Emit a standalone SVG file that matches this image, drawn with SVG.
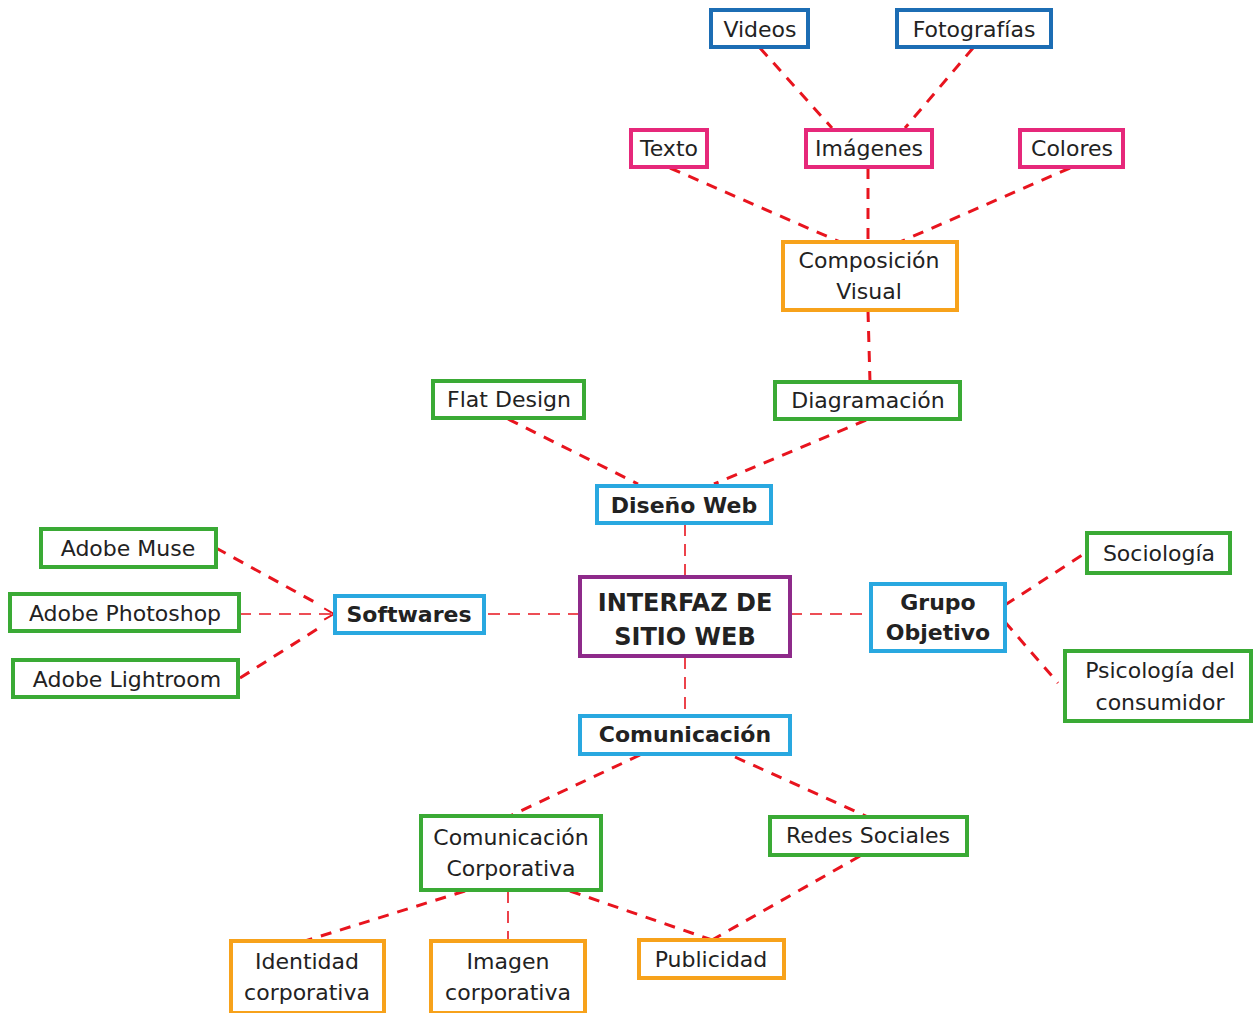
<svg xmlns="http://www.w3.org/2000/svg" width="1253" height="1013" viewBox="0 0 1253 1013">
<style>
rect{fill:#fff;stroke-width:4}
.g{stroke:#3aaa35}.b{stroke:#29a8e0}.d{stroke:#1c6db4}.p{stroke:#e6287a}.o{stroke:#f7a21b}.v{stroke:#8e2a8a}
text{font-family:"DejaVu Sans","Liberation Sans",sans-serif;font-size:22px;fill:#222;text-anchor:middle}
.bd{font-weight:bold}
.c line,.c path{stroke:#e8141e;fill:none;stroke-width:3;stroke-dasharray:11 9}
.c .t{stroke-width:1.6;stroke-dasharray:12 8}
</style>
<defs>
<marker id="ah" viewBox="0 0 10 10" refX="9" refY="5" markerWidth="14" markerHeight="14" orient="auto" markerUnits="userSpaceOnUse">
<path d="M2 1 L9 5 L2 9" fill="none" stroke="#e8141e" stroke-width="1.4"/>
</marker>
</defs>
<g class="c" id="connectors">
<line x1="760" y1="48" x2="832" y2="128"/>
<line x1="973" y1="48" x2="905" y2="128"/>
<line x1="670" y1="168" x2="840" y2="242"/>
<line x1="868" y1="168" x2="868" y2="242"/>
<line x1="1070" y1="168" x2="900" y2="242"/>
<line x1="868" y1="311" x2="870" y2="382"/>
<line x1="866" y1="420" x2="714" y2="484"/>
<line x1="508" y1="419" x2="638" y2="484"/>
<line class="t" x1="685" y1="524" x2="685" y2="577"/>
<line class="t" x1="580" y1="614" x2="484" y2="614"/>
<line class="t" x1="790" y1="614" x2="871" y2="614"/>
<line class="t" x1="685" y1="657" x2="685" y2="716"/>
<line x1="216" y1="548" x2="318" y2="604"/>
<line class="t" x1="239" y1="614" x2="334" y2="614" marker-end="url(#ah)"/>
<line x1="240" y1="678" x2="322" y2="626"/>
<line x1="1005" y1="605" x2="1087" y2="552"/>
<line x1="1005" y1="622" x2="1058" y2="683"/>
<line x1="640" y1="755" x2="510" y2="816"/>
<line x1="735" y1="757" x2="868" y2="817"/>
<line x1="465" y1="891" x2="305" y2="941"/>
<line class="t" x1="508" y1="891" x2="508" y2="941"/>
<line x1="570" y1="891" x2="712" y2="940"/>
<line x1="860" y1="856" x2="712" y2="940"/>
</g>
<g id="videos"><rect class="d" x="711" y="10" width="97" height="37"/><text x="760" y="37">Videos</text></g>
<g id="fotografias"><rect class="d" x="897" y="10" width="154" height="37"/><text x="974" y="37">Fotografías</text></g>
<g id="texto"><rect class="p" x="631" y="130" width="76" height="37"/><text x="669" y="156">Texto</text></g>
<g id="imagenes"><rect class="p" x="806" y="130" width="126" height="37"/><text x="869" y="156">Imágenes</text></g>
<g id="colores"><rect class="p" x="1020" y="130" width="103" height="37"/><text x="1072" y="156">Colores</text></g>
<g id="composicion"><rect class="o" x="783" y="242" width="174" height="68"/><text x="869" y="268">Composición</text><text x="869" y="299">Visual</text></g>
<g id="diagramacion"><rect class="g" x="775" y="382" width="185" height="37"/><text x="868" y="408">Diagramación</text></g>
<g id="flatdesign"><rect class="g" x="433" y="381" width="151" height="37"/><text x="509" y="407">Flat Design</text></g>
<g id="disenoweb"><rect class="b" x="597" y="486" width="174" height="37"/><text class="bd" x="684" y="513">Diseño Web</text></g>
<g id="adobemuse"><rect class="g" x="41" y="529" width="175" height="38"/><text x="128" y="556">Adobe Muse</text></g>
<g id="photoshop"><rect class="g" x="10" y="594" width="229" height="37"/><text x="125" y="621">Adobe Photoshop</text></g>
<g id="lightroom"><rect class="g" x="13" y="660" width="225" height="37"/><text x="127" y="687">Adobe Lightroom</text></g>
<g id="softwares"><rect class="b" x="335" y="596" width="149" height="37"/><text class="bd" x="409" y="622">Softwares</text></g>
<g id="interfaz"><rect class="v" x="580" y="577" width="210" height="79"/><text class="bd" x="685" y="611" style="font-size:24px">INTERFAZ DE</text><text class="bd" x="685" y="645" style="font-size:24px">SITIO WEB</text></g>
<g id="grupo"><rect class="b" x="871" y="584" width="134" height="67"/><text class="bd" x="938" y="610">Grupo</text><text class="bd" x="938" y="640">Objetivo</text></g>
<g id="sociologia"><rect class="g" x="1087" y="533" width="143" height="40"/><text x="1159" y="561">Sociología</text></g>
<g id="psicologia"><rect class="g" x="1065" y="651" width="186" height="70"/><text x="1160" y="678">Psicología del</text><text x="1160" y="710">consumidor</text></g>
<g id="comunicacion"><rect class="b" x="580" y="716" width="210" height="38"/><text class="bd" x="685" y="742">Comunicación</text></g>
<g id="comcorp"><rect class="g" x="421" y="816" width="180" height="74"/><text x="511" y="845">Comunicación</text><text x="511" y="876">Corporativa</text></g>
<g id="redes"><rect class="g" x="770" y="817" width="197" height="38"/><text x="868" y="843">Redes Sociales</text></g>
<g id="identidad"><rect class="o" x="231" y="941" width="153" height="72"/><text x="307" y="969">Identidad</text><text x="307" y="1000">corporativa</text></g>
<g id="imagen"><rect class="o" x="431" y="941" width="154" height="72"/><text x="508" y="969">Imagen</text><text x="508" y="1000">corporativa</text></g>
<g id="publicidad"><rect class="o" x="639" y="940" width="145" height="38"/><text x="711" y="967">Publicidad</text></g>
</svg>
